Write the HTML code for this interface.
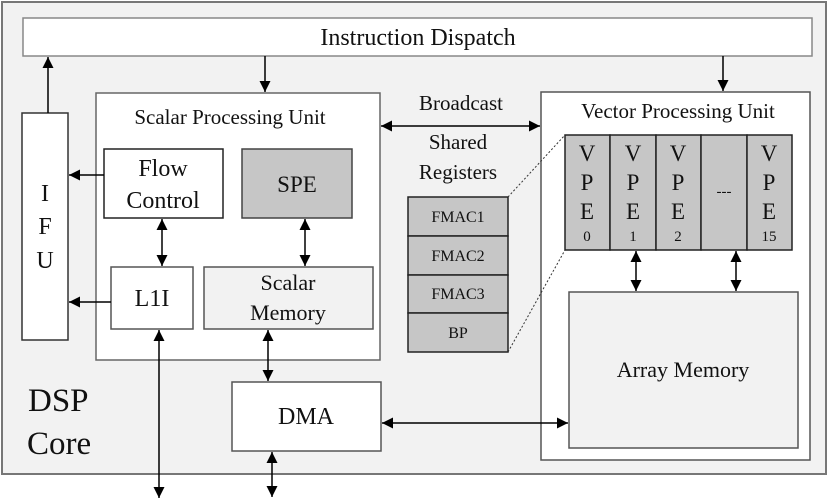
<!DOCTYPE html>
<html><head><meta charset="utf-8"><style>body{margin:0;background:#fff}svg{display:block}</style></head><body>
<svg width="830" height="501" viewBox="0 0 830 501" xmlns="http://www.w3.org/2000/svg" font-family="'Liberation Serif',serif" fill="#111">
<defs>
<marker id="a" viewBox="0 0 10 10" refX="10" refY="5" markerWidth="11" markerHeight="11" orient="auto-start-reverse" markerUnits="userSpaceOnUse"><path d="M0,0L10,5L0,10z" fill="#000"/></marker>
</defs>
<rect x="2" y="2" width="824" height="472" fill="#f2f2f2" stroke="#777" stroke-width="2"/>
<rect x="23" y="18" width="789" height="38" fill="#fff" stroke="#888" stroke-width="1.5"/>
<text x="418" y="45" font-size="24" text-anchor="middle">Instruction Dispatch</text>
<rect x="22" y="113" width="46" height="227" fill="#fff" stroke="#333" stroke-width="1.5"/>
<text x="45" y="201" font-size="24" text-anchor="middle">I</text>
<text x="45" y="234" font-size="24" text-anchor="middle">F</text>
<text x="45" y="268" font-size="24" text-anchor="middle">U</text>
<rect x="96" y="93" width="284" height="267" fill="#fff" stroke="#666" stroke-width="1.5"/>
<text x="230" y="124" font-size="21" text-anchor="middle">Scalar Processing Unit</text>
<rect x="104" y="149" width="119" height="69" fill="#fff" stroke="#222" stroke-width="1.5"/>
<text x="163" y="176" font-size="24" text-anchor="middle">Flow</text>
<text x="163" y="208" font-size="24" text-anchor="middle">Control</text>
<rect x="242" y="149" width="110" height="69" fill="#c6c6c6" stroke="#444" stroke-width="1.5"/>
<text x="297" y="192" font-size="23" text-anchor="middle">SPE</text>
<rect x="111" y="267" width="82" height="62" fill="#fff" stroke="#555" stroke-width="1.5"/>
<text x="152" y="306" font-size="24" text-anchor="middle">L1I</text>
<rect x="204" y="267" width="169" height="62" fill="#f2f2f2" stroke="#555" stroke-width="1.5"/>
<text x="288" y="290" font-size="22" text-anchor="middle">Scalar</text>
<text x="288" y="320" font-size="22" text-anchor="middle">Memory</text>
<rect x="232" y="382" width="149" height="69" fill="#fff" stroke="#555" stroke-width="1.5"/>
<text x="306" y="424" font-size="24" text-anchor="middle">DMA</text>
<text x="28" y="411" font-size="33">DSP</text>
<text x="27" y="454" font-size="33">Core</text>
<text x="461" y="110" font-size="21" text-anchor="middle">Broadcast</text>
<text x="458" y="149" font-size="21" text-anchor="middle">Shared</text>
<text x="458" y="179" font-size="21" text-anchor="middle">Registers</text>
<g stroke="#222" stroke-width="1.5" fill="#c6c6c6">
<rect x="408" y="197" width="100" height="39"/>
<rect x="408" y="236" width="100" height="39"/>
<rect x="408" y="275" width="100" height="38"/>
<rect x="408" y="313" width="100" height="39"/>
</g>
<g font-size="16" text-anchor="middle">
<text x="458" y="222">FMAC1</text><text x="458" y="261">FMAC2</text><text x="458" y="299">FMAC3</text><text x="458" y="338">BP</text>
</g>
<rect x="541" y="92" width="269" height="368" fill="#fff" stroke="#555" stroke-width="1.5"/>
<text x="678" y="118" font-size="21" text-anchor="middle">Vector Processing Unit</text>
<g stroke="#222" stroke-width="1.5" fill="#c6c6c6">
<rect x="565" y="135" width="45" height="115"/><rect x="610" y="135" width="46" height="115"/><rect x="656" y="135" width="45" height="115"/><rect x="701" y="135" width="46" height="115"/><rect x="747" y="135" width="45" height="115"/>
</g>
<g font-size="23" text-anchor="middle">
<text x="587" y="161">V</text><text x="587" y="190">P</text><text x="587" y="219">E</text><text x="587" y="241" font-size="15">0</text>
<text x="633" y="161">V</text><text x="633" y="190">P</text><text x="633" y="219">E</text><text x="633" y="241" font-size="15">1</text>
<text x="678" y="161">V</text><text x="678" y="190">P</text><text x="678" y="219">E</text><text x="678" y="241" font-size="15">2</text>
<text x="724" y="196" font-size="15">---</text>
<text x="769" y="161">V</text><text x="769" y="190">P</text><text x="769" y="219">E</text><text x="769" y="241" font-size="15">15</text>
</g>
<g stroke="#333" stroke-width="1" stroke-dasharray="2,2"><line x1="508" y1="197" x2="565" y2="135"/><line x1="508" y1="352" x2="565" y2="250"/></g>
<rect x="569" y="292" width="229" height="156" fill="#f2f2f2" stroke="#555" stroke-width="1.5"/>
<text x="683" y="377" font-size="22" text-anchor="middle">Array Memory</text>
<g stroke="#000" stroke-width="1.5" fill="none">
<line x1="48" y1="113" x2="48" y2="57" marker-end="url(#a)"/>
<line x1="265" y1="56" x2="265" y2="92" marker-end="url(#a)"/>
<line x1="723" y1="56" x2="723" y2="91" marker-end="url(#a)"/>
<line x1="104" y1="175" x2="69" y2="175" marker-end="url(#a)"/>
<line x1="111" y1="302" x2="69" y2="302" marker-end="url(#a)"/>
<line x1="162" y1="219" x2="162" y2="266" marker-start="url(#a)" marker-end="url(#a)"/>
<line x1="305" y1="219" x2="305" y2="266" marker-start="url(#a)" marker-end="url(#a)"/>
<line x1="159" y1="330" x2="159" y2="498" marker-start="url(#a)" marker-end="url(#a)"/>
<line x1="268" y1="330" x2="268" y2="381" marker-start="url(#a)" marker-end="url(#a)"/>
<line x1="272" y1="452" x2="272" y2="497" marker-start="url(#a)" marker-end="url(#a)"/>
<line x1="381" y1="126" x2="540" y2="126" marker-start="url(#a)" marker-end="url(#a)"/>
<line x1="382" y1="423" x2="568" y2="423" marker-start="url(#a)" marker-end="url(#a)"/>
<line x1="636" y1="251" x2="636" y2="291" marker-start="url(#a)" marker-end="url(#a)"/>
<line x1="736" y1="251" x2="736" y2="291" marker-start="url(#a)" marker-end="url(#a)"/>
</g>
</svg>
</body></html>
